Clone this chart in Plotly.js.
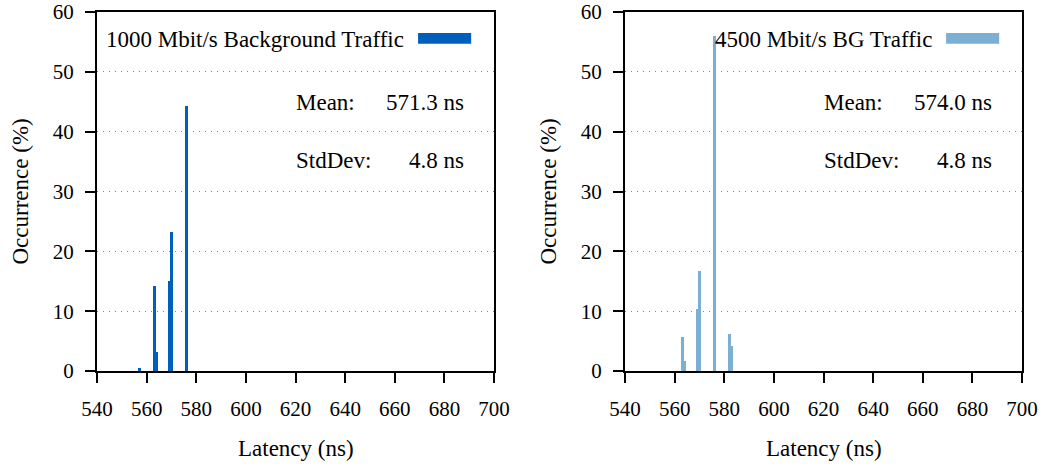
<!DOCTYPE html>
<html>
<head>
<meta charset="utf-8">
<script src="https://cdn.plot.ly/plotly-3.0.1.min.js"></script>
<style>html,body{margin:0;padding:0;background:#fff;}#chart{width:1047px;height:464px;}</style>
</head>
<body>
<div id="chart"></div>
<script>
// Latency bins (ns)
const latencyLeft = [557.0, 563.2, 564.2, 569.0, 570.0, 576.1];
const occurrenceLeft = [0.5, 14.2, 3.2, 15.0, 23.2, 44.3];
const latencyRight = [563.2, 564.2, 569.0, 570.0, 576.1, 582.1, 583.1];
const occurrenceRight = [5.7, 1.7, 10.4, 16.7, 56.0, 6.2, 4.2];
const seriesNames = ["1000 Mbit/s Background Traffic", "4500 Mbit/s BG Traffic"];
const meanLabels = ["571.3 ns", "574.0 ns"];
const stdLabels = ["4.8 ns", "4.8 ns"];
const xTicks = [540, 560, 580, 600, 620, 640, 660, 680, 700];
const yTicks = [0, 10, 20, 30, 40, 50, 60];

const colors = ["#005fbd", "#7bafd4"];
const FONT = "'Liberation Serif', 'DejaVu Serif', serif";
const fsz = 21;
const asz = 23;

const traces = [
  {type: "bar", x: latencyLeft, y: occurrenceLeft, width: 1.15, marker: {color: colors[0]}, xaxis: "x", yaxis: "y", name: seriesNames[0], showlegend: false},
  {type: "bar", x: latencyRight, y: occurrenceRight, width: 1.15, marker: {color: colors[1]}, xaxis: "x2", yaxis: "y2", name: seriesNames[1], showlegend: false}
];

function xax(domain, anchor) {
  return {domain: domain, anchor: anchor, range: [540, 700], tickvals: xTicks, ticktext: xTicks.map(String),
    ticks: "outside", ticklen: 10, tickwidth: 2, tickcolor: "#000", showline: true, linecolor: "#000", linewidth: 2,
    mirror: true, showgrid: false, zeroline: false, ticklabelstandoff: 8,
    tickfont: {family: FONT, size: fsz, color: "#000"}};
}
function yax(anchor) {
  return {domain: [0, 1], anchor: anchor, range: [0, 60], tickvals: yTicks, ticktext: yTicks.map(String),
    ticks: "outside", ticklen: 10, tickwidth: 2, tickcolor: "#000", showline: true, linecolor: "#000", linewidth: 2,
    mirror: true, showgrid: true, gridcolor: "#888", griddash: "1px,5px", gridwidth: 1, zeroline: false, ticklabelstandoff: 7,
    tickfont: {family: FONT, size: fsz, color: "#000"}};
}

const annotations = [];
const shapes = [];
const axes = [["x", "y"], ["x2", "y2"]];
axes.forEach((a, i) => {
  annotations.push({xref: a[0], yref: a[1], x: 664.6, y: 55.35, text: seriesNames[i], showarrow: false, xanchor: "right", yanchor: "middle", font: {family: FONT, size: asz, color: "#000"}});
  annotations.push({xref: a[0], yref: a[1], x: 619.2, y: 44.8, text: "Mean:", showarrow: false, xanchor: "left", yanchor: "middle", font: {family: FONT, size: asz, color: "#000"}});
  annotations.push({xref: a[0], yref: a[1], x: 688.9, y: 44.8, text: meanLabels[i], showarrow: false, xanchor: "right", yanchor: "middle", font: {family: FONT, size: asz, color: "#000"}});
  annotations.push({xref: a[0], yref: a[1], x: 619.2, y: 35.1, text: "StdDev:", showarrow: false, xanchor: "left", yanchor: "middle", font: {family: FONT, size: asz, color: "#000"}});
  annotations.push({xref: a[0], yref: a[1], x: 688.9, y: 35.1, text: stdLabels[i], showarrow: false, xanchor: "right", yanchor: "middle", font: {family: FONT, size: asz, color: "#000"}});
  shapes.push({type: "rect", xref: a[0], yref: a[1], x0: 669.4, x1: 690.8, y0: 54.7, y1: 56.5, fillcolor: colors[i], line: {width: 0}});
});
// axis titles
annotations.push({xref: "paper", yref: "paper", x: 295.5/1047, y: -0.217, text: "Latency (ns)", showarrow: false, xanchor: "center", yanchor: "middle", font: {family: FONT, size: asz, color: "#000"}});
annotations.push({xref: "paper", yref: "paper", x: 823.5/1047, y: -0.217, text: "Latency (ns)", showarrow: false, xanchor: "center", yanchor: "middle", font: {family: FONT, size: asz, color: "#000"}});
annotations.push({xref: "paper", yref: "paper", x: 20/1047, y: 0.5, text: "Occurrence (%)", textangle: -90, showarrow: false, xanchor: "center", yanchor: "middle", font: {family: FONT, size: asz, color: "#000"}});
annotations.push({xref: "paper", yref: "paper", x: 548/1047, y: 0.5, text: "Occurrence (%)", textangle: -90, showarrow: false, xanchor: "center", yanchor: "middle", font: {family: FONT, size: asz, color: "#000"}});

const layout = {
  width: 1047, height: 464,
  margin: {l: 0, r: 0, t: 12, b: 93},
  paper_bgcolor: "#fff", plot_bgcolor: "#fff",
  showlegend: false,
  bargap: 0,
  xaxis: xax([97/1047, 494/1047], "y"),
  yaxis: yax("x"),
  xaxis2: xax([625/1047, 1022/1047], "y2"),
  yaxis2: yax("x2"),
  annotations: annotations,
  shapes: shapes
};
Plotly.newPlot("chart", traces, layout, {displayModeBar: false, staticPlot: true});
</script>
</body>
</html>
